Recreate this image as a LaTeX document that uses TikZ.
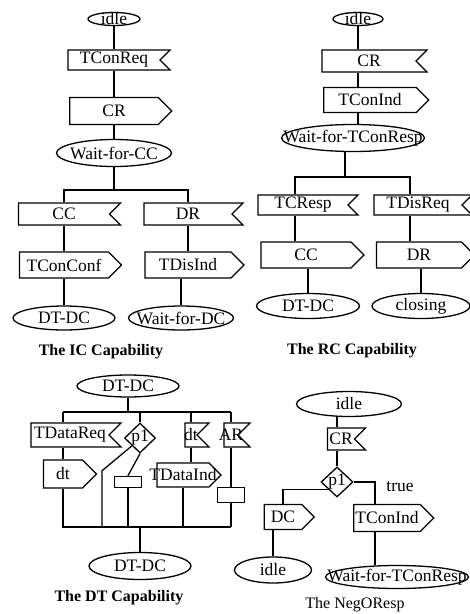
\documentclass[tikz,border=0pt]{standalone}
\usepackage{fontspec}
\setmainfont{Liberation Serif}
\usetikzlibrary{shapes.geometric,shapes.symbols}

\begin{document}
\begin{tikzpicture}[x=1pt, y=-1pt, line width=1.3pt,
    font=\fontsize{17.5}{20}\selectfont,
    state/.style={draw, ellipse, inner sep=0pt, minimum height=24},
    input/.style={draw, signal, signal to=nowhere, signal from=east, inner sep=0pt, minimum height=22},
    output/.style={draw, signal, signal to=east, inner sep=0pt, minimum height=26},
    task/.style={draw, rectangle, inner sep=0pt},
    decision/.style={draw, diamond, inner sep=0pt, minimum width=31, minimum height=30},
    caption/.style={font=\bfseries\fontsize{16}{18}\selectfont}]
  \useasboundingbox (0,0) rectangle (470,614);

  % IC capability
  \node [state, minimum width=52, minimum height=13, label=center:idle] (icidle) at (114,19) {};
  \node [input, minimum width=102, minimum height=20, label=center:TConReq] (icreq) at (114,60) {};
  \node [output, minimum width=102, minimum height=27, label=center:CR] (iccr) at (114,111) {};
  \node [state, minimum width=115, minimum height=27, label=center:Wait-for-CC] (icwait) at (114,153) {};
  \coordinate (icfork) at (114,190);
  \node [input, minimum width=102, label=center:CC] (iccc) at (64,214) {};
  \node [input, minimum width=99, label=center:DR] (icdr) at (188,214) {};
  \node [output, minimum width=102, label=center:TConConf] (icconf) at (64,265) {};
  \node [output, minimum width=99, label=center:TDisInd] (icdis) at (188,265) {};
  \node [state, minimum width=102, label=center:DT-DC] (icdtdc) at (64,318) {};
  \node [state, minimum width=105, label=center:Wait-for-DC] (icwdc) at (181,318) {};
  \node [caption] (iccap) at (101,352) {The IC Capability};

  \draw (icidle) -- (icreq);
  \draw (icreq) -- (iccr);
  \draw (iccr) -- (icwait);
  \draw (icwait) -- (icfork);
  \draw (iccc.north) |- (icfork) -| (icdr.north);
  \draw (iccc) -- (icconf);
  \draw (icdr) -- (icdis);
  \draw (icconf) -- (icdtdc);
  \draw (icwdc |- icdis.south) -- (icwdc);

  % RC capability
  \node [state, minimum width=50, minimum height=13, label=center:idle] (rcidle) at (358,19) {};
  \node [input, minimum width=105, label=center:CR] (rccr) at (369,61) {};
  \node [output, minimum width=105, minimum height=25, label=center:TConInd] (rcind) at (370,100) {};
  \node [state, minimum width=143, minimum height=27, label=center:Wait-for-TConResp] (rcwait) at (353,138) {};
  \coordinate (rcfork) at (345,177);
  \node [input, minimum width=100, minimum height=20, label=center:TCResp] (rcresp) at (303,205) {};
  \node [input, minimum width=98, minimum height=20, label=center:TDisReq] (rcdreq) at (418,205) {};
  \node [output, minimum width=103, label=center:CC] (rccc) at (306,255) {};
  \node [output, minimum width=98, label=center:DR] (rcdr) at (419,255) {};
  \node [state, minimum width=103, minimum height=25, label=center:DT-DC] (rcdtdc) at (308,306) {};
  \node [state, minimum width=98, minimum height=25, label=center:closing] (rcclose) at (421,306) {};
  \node [caption] (rccap) at (352,351) {The RC Capability};

  \draw (rcidle) -- (rcidle |- rccr.north);
  \draw (rcidle |- rccr.south) -- (rcidle |- rcind.north);
  \draw (rcidle |- rcind.south) -- (rcidle |- rcwait.north);
  \draw (rcfork |- rcwait.south) -- (rcfork);
  \draw ([xshift=-8pt]rcresp.north) |- (rcfork) -| ([xshift=-8pt]rcdreq.north);
  \draw ([xshift=-8pt]rcresp.south) -- ([xshift=-8pt]rcresp.south |- rccc.north);
  \draw ([xshift=-8pt]rcdreq.south) -- ([xshift=-8pt]rcdreq.south |- rcdr.north);
  \draw (rcdtdc |- rccc.south) -- (rcdtdc);
  \draw (rcclose |- rcdr.south) -- (rcclose);

  % DT capability
  \node [state, minimum width=102, minimum height=22, label=center:DT-DC] (dttop) at (128,386) {};
  \coordinate (dtfork) at (128,412);
  \node [input, minimum width=90, minimum height=24, label=center:TDataReq] (dtreq) at (70,435) {};
  \node [output, minimum width=53, minimum height=28, label=center:dt] (dtdt) at (63,474) {};
  \node [decision, label=center:p1] (dtdec) at (140,438) {};
  \node [input, minimum width=24, minimum height=24, label=center:dt] (dtdtin) at (191,435) {};
  \node [output, minimum width=64, minimum height=24, label=center:TDataInd] (dtind) at (183,475) {};
  \node [input, minimum width=26, minimum height=24, label=center:AR] (dtar) at (231,435) {};
  \node [task, minimum width=27, minimum height=11] (dttask1) at (128,482) {};
  \node [task, minimum width=27, minimum height=15] (dttask2) at (231,495) {};
  \coordinate (dtjoin) at (140,527);
  \node [state, minimum width=102, minimum height=27, label=center:DT-DC] (dtbot) at (140,566) {};
  \node [caption] (dtcap) at (119,598) {The DT Capability};

  \draw (dttop) -- (dtfork);
  \draw (dtdt |- dtfork) -- (dtar |- dtfork);
  \draw (dtdt |- dtfork) -- (dtdt |- dtreq.north);
  \draw (dtdt |- dtreq.south) -- (dtdt);
  \draw (dtdec |- dtfork) -- (dtdec);
  \draw (dtdtin |- dtfork) -- (dtdtin);
  \draw (dtar |- dtfork) -- (dtar);
  \draw (dtdtin) -- (dtdtin |- dtind.north);
  \draw (dtar) -- (dttask2);
  \draw (dtdec.south west) -- ++(-30,25) |- (dtjoin);
  \draw (dtdec.south) -- ++(-12,22) -- (dttask1.north);
  \draw (dttask1) -- (dttask1 |- dtjoin);
  \draw (dtind) -- (dtind |- dtjoin);
  \draw (dtdt) -- (dtdt |- dtjoin) -- (dttask2 |- dtjoin);
  \draw (dttask2) -- (dttask2 |- dtjoin);
  \draw (dtjoin) -- (dtbot);

  % NegOResp
  \node [state, minimum width=105, minimum height=25, label=center:idle] (nidle) at (349,404) {};
  \node [input, minimum width=38, minimum height=22, label=center:CR] (ncr) at (341,439) {};
  \node [decision, minimum width=32, label=center:p1] (ndec) at (337,482) {};
  \node (ntrue) at (400,487) {true};
  \node [output, minimum width=50, minimum height=25, label=center:DC] (ndc) at (283,517) {};
  \node [output, minimum width=80, minimum height=27, label=center:TConInd] (nconind) at (387,518) {};
  \node [state, minimum width=77, minimum height=26, label=center:idle] (nidle2) at (273,570) {};
  \node [state, minimum width=143, minimum height=23, label=center:Wait-for-TConResp] (nwait) at (397,577) {};
  \node [font=\fontsize{16}{18}\selectfont] (ncap) at (355,605) {The NegOResp};

  \draw (ndec |- nidle.south) -- (ndec |- ncr.north);
  \draw (ndec |- ncr.south) -- (ndec);
  \draw (ndec.east) -| ([xshift=-12pt]nconind.north);
  \draw (ndec.south west) -| (ndc.north);
  \draw (nidle2 |- ndc.south) -- (nidle2);
  \draw ([xshift=-12pt]nconind.south) -- ([xshift=-12pt]nconind.south |- nwait.north);
\end{tikzpicture}
\end{document}
